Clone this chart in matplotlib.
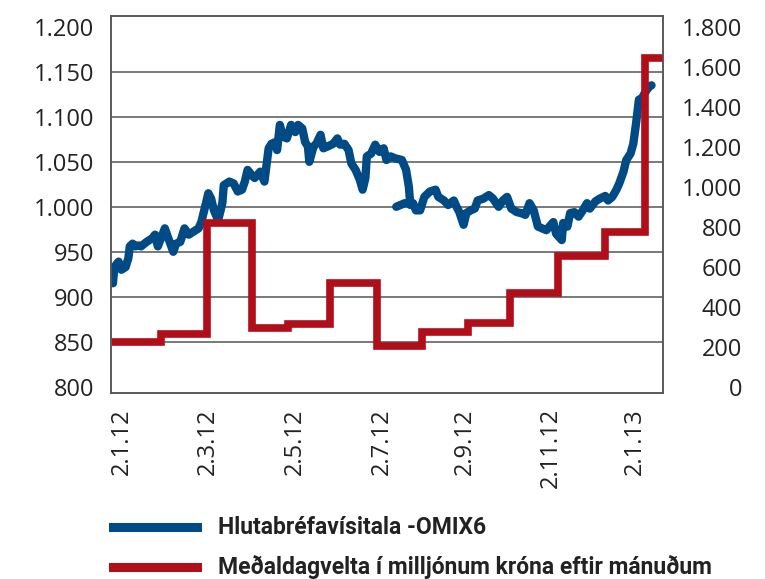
import matplotlib
matplotlib.use('Agg')
import matplotlib.pyplot as plt
from matplotlib.lines import Line2D

plt.rcParams['font.family'] = ['Open Sans', 'DejaVu Sans']

# OMIX6 index, x = days since 2.1.12
omx_days = [0, 1, 4, 6, 9, 11, 12, 14, 16, 18, 20, 24, 28, 30, 32, 37, 39, 43, 45, 48,
            51, 54, 57, 61, 63, 66, 68, 70, 72, 75, 78, 79, 83, 86, 89, 92, 94, 96, 99, 101,
            105, 108, 111, 113, 116, 117, 119, 121, 124, 127, 130, 132, 135, 137, 139, 140, 143, 145, 148, 150,
            153, 157, 160, 162, 165, 168, 170, 173, 176, 178, 180, 181, 184, 187, 190, 193, 195, 198, 201, 206,
            209, 211, 212]
omx_vals = [915, 933, 939, 930, 933, 943, 956, 959, 956, 957, 956, 961, 965, 969, 956, 976, 967, 950, 959, 961,
            976, 969, 972, 976, 983, 1002, 1015, 1009, 996, 985, 1004, 1024, 1028, 1026, 1017, 1019, 1028, 1041, 1035, 1032,
            1039, 1028, 1065, 1070, 1072, 1063, 1091, 1078, 1076, 1091, 1083, 1091, 1087, 1072, 1067, 1050, 1067, 1070, 1080, 1065,
            1067, 1070, 1076, 1069, 1070, 1063, 1048, 1041, 1030, 1019, 1032, 1056, 1059, 1069, 1061, 1065, 1052, 1056, 1054, 1052,
            1041, 1022, 1002]

# second piece of the index line (after the break in July)
omx_days2 = [202, 208, 214, 216, 219, 222, 226, 230, 232, 236, 239, 243, 245, 247, 250, 252, 255, 258, 260, 264,
             268, 271, 275, 278, 281, 284, 288, 291, 294, 297, 300, 303, 309, 314, 316, 320, 321, 324, 326, 329,
             332, 335, 338, 340, 344, 347, 351, 353, 356, 359, 361, 364, 366, 369, 371, 373, 375, 377, 379, 382,
             384]
omx_vals2 = [1000, 1004, 1004, 996, 996, 1011, 1017, 1019, 1011, 1007, 1002, 1007, 1000, 994, 980, 993, 996, 998, 1007, 1009,
             1013, 1009, 1000, 1007, 1011, 998, 994, 993, 991, 1004, 996, 978, 974, 983, 970, 963, 982, 978, 993, 994,
             989, 996, 1004, 998, 1006, 1009, 1012, 1007, 1011, 1019, 1026, 1039, 1052, 1059, 1070, 1093, 1119, 1120, 1126, 1133,
             1135]

# average daily turnover per month (m.kr.), step starts in days since 2.1.12
month_starts = [-1, 34, 67, 99, 125, 155, 188, 220, 253, 283, 317, 351, 379]
turnover = [225, 262, 820, 293, 313, 518, 203, 273, 318, 468, 653, 773, 1643]
end_day = 392

tick_days = [6, 68, 130, 192, 251, 312, 372]
tick_labels = ['2.1.12', '2.3.12', '2.5.12', '2.7.12', '2.9.12', '2.11.12', '2.1.13']
left_ticks = [800, 850, 900, 950, 1000, 1050, 1100, 1150, 1200]
left_labels = ['800', '850', '900', '950', '1.000', '1.050', '1.100', '1.150', '1.200']
right_ticks = [0, 200, 400, 600, 800, 1000, 1200, 1400, 1600, 1800]
right_labels = ['0', '200', '400', '600', '800', '1.000', '1.200', '1.400', '1.600', '1.800']

blue = '#004a85'
red = '#b00f1a'
grey = '#555555'

fig = plt.figure(figsize=(7.65, 5.79), dpi=100)
ax1 = fig.add_axes([0.1451, 0.3212, 0.7216, 0.6511])
ax2 = ax1.twinx()

for v in left_ticks[1:-1]:
    ax1.axhline(v, color=grey, lw=1.1, zorder=0)

ax1.plot(omx_days, omx_vals, color=blue, lw=6, solid_capstyle='round', solid_joinstyle='round')
ax1.plot(omx_days2, omx_vals2, color=blue, lw=6, solid_capstyle='round', solid_joinstyle='round')

ax2.plot(month_starts + [end_day], turnover + [turnover[-1]], drawstyle='steps-post',
         color=red, lw=5.5, solid_joinstyle='miter', solid_capstyle='butt')

ax1.set_xlim(-1.4, 392.2)
ax1.set_ylim(793, 1212)
ax2.set_ylim(-31.5, 1853.5)

ax1.set_xticks(tick_days)
ax1.set_xticklabels(tick_labels, rotation=90, fontsize=17, color='#222222')
ax1.set_yticks(left_ticks)
ax1.set_yticklabels(left_labels, fontsize=17, color='#222222')
ax2.set_yticks(right_ticks)
ax2.set_yticklabels(right_labels, fontsize=17, color='#222222', ha='right')

ax1.tick_params(axis='both', length=0)
ax1.tick_params(axis='y', pad=12)
ax1.tick_params(axis='x', pad=11)
ax2.tick_params(axis='y', length=0, pad=57)

for ax in (ax1, ax2):
    for s in ax.spines.values():
        s.set_color(grey)
        s.set_linewidth(1.1)

# legend
fig.add_artist(Line2D([0.1477, 0.2575], [0.0898, 0.0898], color=blue, lw=6.5))
fig.add_artist(Line2D([0.1477, 0.2575], [0.0207, 0.0207], color=red, lw=6.5))
leg_font = ['Roboto', 'DejaVu Sans']
fig.text(0.285, 0.0898, 'Hlutabréfavísitala -OMIX6', fontsize=16.5, fontweight='bold',
         family=leg_font, color='#222222', va='center')
fig.text(0.285, 0.0207, 'Meðaldagvelta í milljónum króna eftir mánuðum', fontsize=16.5,
         fontweight='bold', family=leg_font, color='#222222', va='center')

fig.savefig('out.png', dpi=100)
